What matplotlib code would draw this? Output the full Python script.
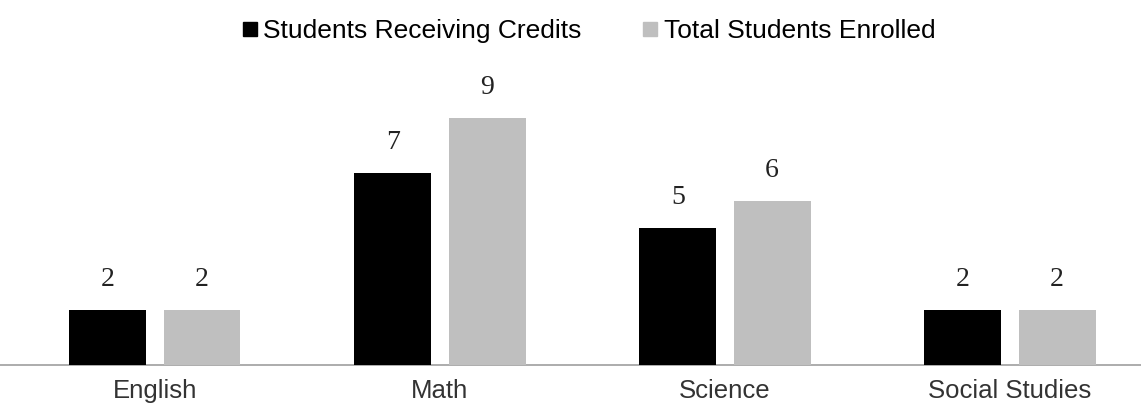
import matplotlib
matplotlib.use("Agg")
import matplotlib.pyplot as plt
from matplotlib.lines import Line2D
import numpy as np

# ── Data ──────────────────────────────────────────────────────────────
SUBJECTS = ["English", "Math", "Science", "Social Studies"]
CREDITS  = [2, 7, 5, 2]
ENROLLED = [2, 9, 6, 2]
SERIES   = ["Students Receiving Credits", "Total Students Enrolled"]

BLACK = "#000000"
GRAY  = "#BFBFBF"

fig = plt.figure(figsize=(11.41, 4.09), dpi=100)
ax = fig.add_axes([0, 44 / 409, 1, 365 / 409])

x = np.arange(len(SUBJECTS))
w = 0.27
off = 0.165
b1 = ax.bar(x - off, CREDITS, w, color=BLACK, zorder=3)
b2 = ax.bar(x + off, ENROLLED, w, color=GRAY, zorder=3)

for bars, vals in ((b1, CREDITS), (b2, ENROLLED)):
    for bar, v in zip(bars, vals):
        ax.annotate(str(v), (bar.get_x() + bar.get_width() / 2, v),
                    xytext=(0, 13), textcoords="offset points",
                    ha="center", va="bottom", fontsize=20,
                    family="Liberation Serif", color="#222222")

ax.set_xlim(-155 / 285, (1141 - 155) / 285)
ax.set_ylim(0, 365 / 27.4)
ax.set_xticks(x)
ax.set_xticklabels(SUBJECTS, fontsize=18.5, family="Liberation Sans", color="#333333")
ax.tick_params(axis="x", length=0, pad=10)
ax.set_yticks([])
for s in ("top", "right", "left"):
    ax.spines[s].set_visible(False)
ax.spines["bottom"].set_color("#A6A6A6")
ax.spines["bottom"].set_linewidth(1.3)

handles = [Line2D([], [], marker="s", linestyle="none", color=c, markersize=9.5)
           for c in (BLACK, GRAY)]
fig.legend(handles, SERIES, loc="upper center", bbox_to_anchor=(0.516, 1.012),
           ncol=2, frameon=False, handlelength=0.6, handletextpad=0.2,
           columnspacing=2.3, prop={"family": "Liberation Sans", "size": 19})

fig.savefig("out.png", dpi=100)
